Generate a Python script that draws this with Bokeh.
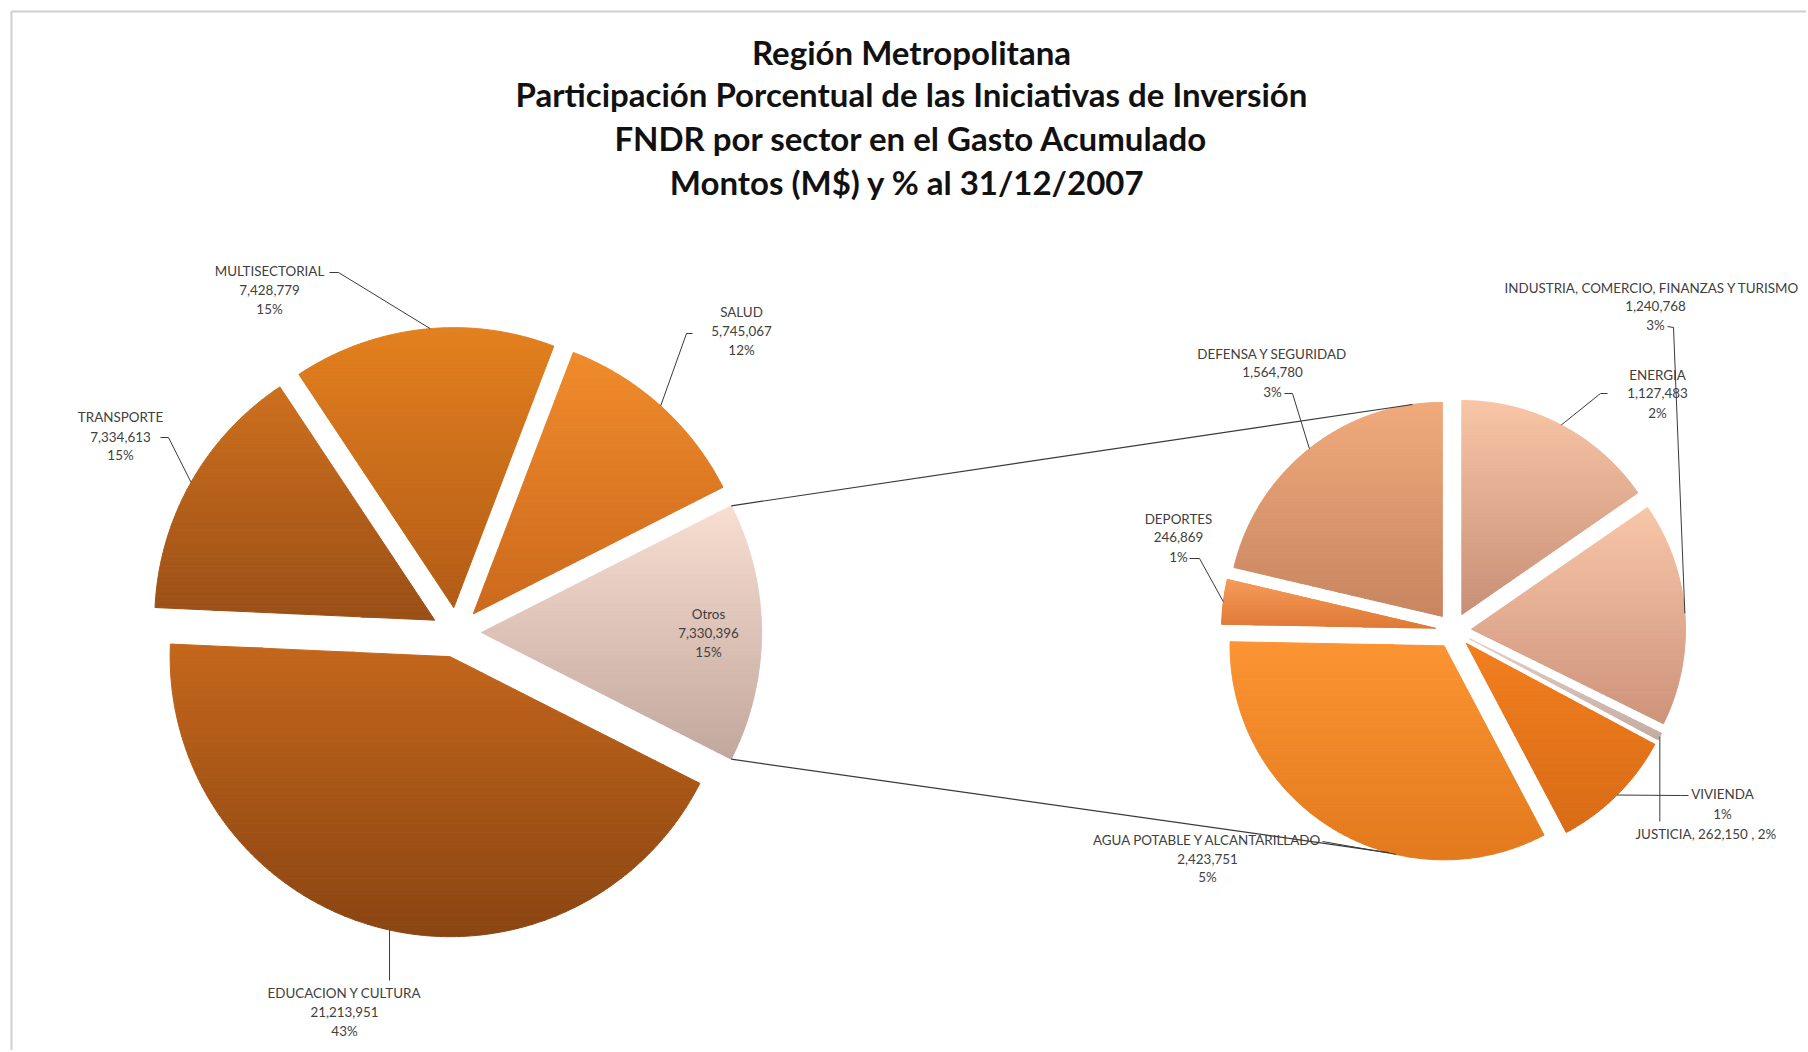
import numpy as np
from bokeh.plotting import figure
from bokeh.models import Range1d
from bokeh.core.properties import value
from bokeh.embed import file_html
from bokeh.resources import INLINE

# ------------------------------------------------------------------ data
title_lines = ["Región Metropolitana",
               "Participación Porcentual de las Iniciativas de Inversión",
               "FNDR por sector en el Gasto Acumulado",
               "Montos (M$)  y % al 31/12/2007"]

# main pie, counter-clockwise starting with the "Otros" slice
main_sectors = ["Otros", "SALUD", "MULTISECTORIAL", "TRANSPORTE", "EDUCACION Y CULTURA"]
main_values = [7330396, 5745067, 7428779, 7334613, 21213951]
main_pct = ["15%", "12%", "15%", "15%", "43%"]

# secondary pie ("Otros" broken down), clockwise from 12 o'clock
sec_sectors = ["ENERGIA", "INDUSTRIA,  COMERCIO,  FINANZAS Y TURISMO", "JUSTICIA", "VIVIENDA",
               "AGUA POTABLE Y ALCANTARILLADO", "DEPORTES", "DEFENSA Y SEGURIDAD"]
sec_values = [1127483, 1240768, 40000, 692000, 2423751, 246869, 1564780]
sec_value_text = ["1,127,483", "1,240,768", "262,150", "", "2,423,751", "246,869", "1,564,780"]
sec_pct = ["2%", "3%", "2%", "1%", "5%", "1%", "3%"]

# ------------------------------------------------------------------ styles / layout
main_colors = [("#f8ddd0", "#c2a79e"), ("#f08b2c", "#cc691c"), ("#e3801f", "#b25c17"),
               ("#cd701f", "#9a4f16"), ("#c4671c", "#8a4512")]
sec_colors = [("#f8c5a6", "#c78f77"), ("#f8c6a8", "#cd937b"), ("#e2cfc6", "#c4aca2"),
              ("#f27f1f", "#d86b16"), ("#fc9433", "#e27a1d"), ("#f69b58", "#de7936"),
              ("#f0aa7b", "#c78560")]

MAIN_C, MAIN_R, MAIN_D = (456, 632), 280, 25
SEC_C, SEC_R, SEC_D = (1453, 630), 214, 18

W, H = 1806, 1050
p = figure(width=W, height=H, output_backend="svg", toolbar_location=None,
           x_range=Range1d(0, W), y_range=Range1d(-H, 0),
           min_border=0, outline_line_color=None, background_fill_color="white")
p.axis.visible = False
p.grid.visible = False


def hex2rgb(h):
    h = h.lstrip("#")
    return np.array([int(h[i:i + 2], 16) for i in (0, 2, 4)], dtype=float)


def mix(c1, c2, t):
    c = hex2rgb(c1) * (1 - t) + hex2rgb(c2) * t
    return "#%02x%02x%02x" % tuple(int(round(v)) for v in c)


def clip(poly, y0, keep_above):
    out = []
    n = len(poly)
    for i in range(n):
        P, Q = poly[i], poly[(i + 1) % n]
        pin = P[1] >= y0 if keep_above else P[1] <= y0
        qin = Q[1] >= y0 if keep_above else Q[1] <= y0
        if pin:
            out.append(P)
        if pin != qin:
            t = (y0 - P[1]) / (Q[1] - P[1])
            out.append((P[0] + t * (Q[0] - P[0]), y0))
    return out


def pie_geometry(values, center, r, d, start, clockwise):
    vals = np.asarray(values, dtype=float)
    spans = vals / vals.sum() * 360.0
    geoms = []
    a = start
    cx, cy = center[0], -center[1]
    for s in spans:
        a0, a1 = (a - s, a) if clockwise else (a, a + s)
        a = a - s if clockwise else a + s
        mid = np.radians((a0 + a1) / 2)
        ax, ay = cx + d * np.cos(mid), cy + d * np.sin(mid)
        geoms.append(dict(a0=a0, a1=a1, ax=ax, ay=ay, r=r, mid=(a0 + a1) / 2))
    return geoms


def arc_point(g, ang):
    t = np.radians(ang)
    return g["ax"] + g["r"] * np.cos(t), g["ay"] + g["r"] * np.sin(t)


def draw_gradient_pie(geoms, colors, nb=70):
    xs_all, ys_all, cols = [], [], []
    for g, (ctop, cbot) in zip(geoms, colors):
        t = np.radians(np.linspace(g["a0"], g["a1"], max(8, int(abs(g["a1"] - g["a0"]) * 2))))
        poly = [(g["ax"], g["ay"])] + [(g["ax"] + g["r"] * np.cos(v), g["ay"] + g["r"] * np.sin(v)) for v in t]
        ymin = min(q[1] for q in poly)
        ymax = max(q[1] for q in poly)
        edges = np.linspace(ymin, ymax, nb + 1)
        for k in range(nb):
            lo, hi = edges[k], edges[k + 1]
            band = clip(clip(poly, lo, True), hi, False)
            if len(band) < 3:
                continue
            frac = (ymax - (lo + hi) / 2) / (ymax - ymin)
            xs_all.append([q[0] for q in band])
            ys_all.append([q[1] for q in band])
            cols.append(mix(ctop, cbot, frac))
    p.patches(xs_all, ys_all, fill_color=cols, line_color=cols, line_width=1)


main_geo = pie_geometry(main_values, MAIN_C, MAIN_R, MAIN_D,
                        start=-main_values[0] / sum(main_values) * 180.0, clockwise=False)
sec_geo = pie_geometry(sec_values, SEC_C, SEC_R, SEC_D, start=90.0, clockwise=True)

# chart frame
p.line([11, 11, 1806], [-1050, -11, -11], line_color="#cfcfcf", line_width=2)

draw_gradient_pie(main_geo, main_colors)
draw_gradient_pie(sec_geo, sec_colors)

# connector lines between the "Otros" slice and the secondary pie
g_ot = main_geo[0]
up0, lo0 = arc_point(g_ot, g_ot["a1"]), arc_point(g_ot, g_ot["a0"])
up1 = arc_point(sec_geo[6], 98.0)
lo1 = arc_point(sec_geo[4], -105.0)
p.multi_line([[up0[0], up1[0]], [lo0[0], lo1[0]]], [[up0[1], up1[1]], [lo0[1], lo1[1]]],
             line_color="#3a3a3a", line_width=1.2)

# ------------------------------------------------------------------ labels
LBL_FONT = value("Lato")
tx, ty, tt = [], [], []


def add_lines(x, ys, lines):
    for yy, s in zip(ys, lines):
        tx.append(x)
        ty.append(-yy)
        tt.append(s)


lead_x, lead_y = [], []


def add_leader(pts_screen, g, ang):
    ex, ey = arc_point(g, ang)
    lead_x.append([q[0] for q in pts_screen] + [ex])
    lead_y.append([-q[1] for q in pts_screen] + [ey])


main_lines = [[n, f"{v:,}", pc] for n, v, pc in zip(main_sectors, main_values, main_pct)]
# Otros (inside)
add_lines(708, [613, 632, 651], main_lines[0])
# SALUD
add_lines(741, [311, 330, 349], main_lines[1])
add_leader([(692, 333), (686, 333)], main_geo[1], main_geo[1]["mid"])
# MULTISECTORIAL
add_lines(269, [270, 289, 308], main_lines[2])
add_leader([(329, 272), (338, 272)], main_geo[2], main_geo[2]["mid"] - 1.5)
# TRANSPORTE
add_lines(120, [416, 436, 454], main_lines[3])
add_leader([(160, 437), (168, 437)], main_geo[3], main_geo[3]["mid"])
# EDUCACION
add_lines(344, [992, 1011, 1030], main_lines[4])
ex, ey = arc_point(main_geo[4], 257.5)
lead_x.append([ex, ex])
lead_y.append([ey, -980])

# secondary labels
add_lines(1655, [287, 305, 324], [sec_sectors[1], sec_value_text[1], sec_pct[1]])
add_leader([(1667, 326), (1673, 327)], sec_geo[1], sec_geo[1]["mid"])
add_lines(1657, [374, 392, 412], [sec_sectors[0], sec_value_text[0], sec_pct[0]])
add_leader([(1607, 393), (1600, 393)], sec_geo[0], sec_geo[0]["mid"])
add_lines(1272, [353, 371, 391], [sec_sectors[6], sec_value_text[6], sec_pct[6]])
add_leader([(1284, 393), (1292, 393)], sec_geo[6], sec_geo[6]["mid"])
add_lines(1178, [518, 536, 556], [sec_sectors[5], sec_value_text[5], sec_pct[5]])
add_leader([(1189, 558), (1199, 558)], sec_geo[5], sec_geo[5]["mid"])
add_lines(1207, [839, 858, 876], [sec_sectors[4], sec_value_text[4], sec_pct[4]])
add_leader([(1322, 841)], sec_geo[4], -103.0)
add_lines(1722, [793, 813], [sec_sectors[3], sec_pct[3]])
add_leader([(1688, 795), (1680, 795)], sec_geo[3], sec_geo[3]["mid"])
add_lines(1707, [833], [f"{sec_sectors[2]},  {sec_value_text[2]} , {sec_pct[2]}"])
jx, jy = arc_point(sec_geo[2], sec_geo[2]["mid"])
lead_x.append([jx, jx])
lead_y.append([jy, -821])

p.multi_line(lead_x, lead_y, line_color="#3a3a3a", line_width=1)
p.text(tx, ty, text=tt, text_font=LBL_FONT, text_font_size="13.4px", text_color="#404040",
       text_align="center", text_baseline="middle")

# title
p.text([911] * 4, [-51, -93, -137, -181], text=title_lines, text_font=value("Lato"),
       text_font_size="33px", text_font_style="bold", text_color="#111111",
       text_align="center", text_baseline="middle")

open("out.html", "w").write(file_html(p, INLINE))
